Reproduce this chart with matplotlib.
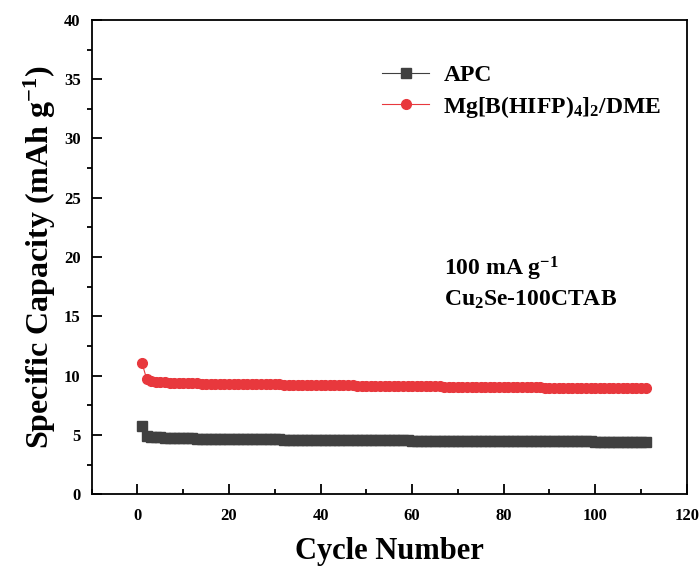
import numpy as np
import matplotlib.pyplot as plt
from matplotlib.ticker import MultipleLocator

# ── Data ─────────────────────────────────────────────────────────────────────
CYCLES = list(range(1, 112))

APC = [
    5.72, 4.88, 4.84, 4.81, 4.79, 4.77, 4.76, 4.74, 4.73, 4.72,
    4.71, 4.70, 4.69, 4.69, 4.68, 4.67, 4.67, 4.66, 4.66, 4.65,
    4.65, 4.64, 4.64, 4.63, 4.63, 4.63, 4.62, 4.62, 4.61, 4.61,
    4.61, 4.60, 4.60, 4.60, 4.59, 4.59, 4.59, 4.58, 4.58, 4.58,
    4.57, 4.57, 4.57, 4.57, 4.56, 4.56, 4.56, 4.55, 4.55, 4.55,
    4.55, 4.54, 4.54, 4.54, 4.54, 4.53, 4.53, 4.53, 4.53, 4.52,
    4.52, 4.52, 4.52, 4.51, 4.51, 4.51, 4.51, 4.50, 4.50, 4.50,
    4.50, 4.50, 4.49, 4.49, 4.49, 4.49, 4.49, 4.48, 4.48, 4.48,
    4.48, 4.48, 4.47, 4.47, 4.47, 4.47, 4.47, 4.46, 4.46, 4.46,
    4.46, 4.46, 4.46, 4.45, 4.45, 4.45, 4.45, 4.45, 4.45, 4.44,
    4.44, 4.44, 4.44, 4.44, 4.44, 4.43, 4.43, 4.43, 4.43, 4.43, 4.43,
]

MG_HIFP = [
    11.05, 9.72, 9.56, 9.49, 9.45, 9.42, 9.40, 9.38, 9.37, 9.36,
    9.35, 9.34, 9.34, 9.33, 9.33, 9.32, 9.32, 9.31, 9.31, 9.30,
    9.30, 9.29, 9.29, 9.28, 9.28, 9.27, 9.27, 9.26, 9.26, 9.25,
    9.25, 9.24, 9.24, 9.23, 9.23, 9.22, 9.22, 9.21, 9.21, 9.20,
    9.20, 9.19, 9.19, 9.18, 9.18, 9.17, 9.17, 9.16, 9.16, 9.15,
    9.15, 9.14, 9.14, 9.13, 9.13, 9.12, 9.12, 9.11, 9.11, 9.10,
    9.10, 9.09, 9.09, 9.08, 9.08, 9.08, 9.07, 9.07, 9.06, 9.06,
    9.06, 9.05, 9.05, 9.04, 9.04, 9.04, 9.03, 9.03, 9.03, 9.02,
    9.02, 9.02, 9.01, 9.01, 9.01, 9.00, 9.00, 9.00, 8.99, 8.99,
    8.99, 8.99, 8.98, 8.98, 8.98, 8.98, 8.97, 8.97, 8.97, 8.97,
    8.96, 8.96, 8.96, 8.96, 8.96, 8.95, 8.95, 8.95, 8.95, 8.95, 8.95,
]

LABELS = ["APC", r"Mg[B(HIFP)$_\mathbf{4}$]$_\mathbf{2}$/DME"]
COLORS = ["#404040", "#e8383d"]
XTICKS = [0, 20, 40, 60, 80, 100, 120]
YTICKS = [0, 5, 10, 15, 20, 25, 30, 35, 40]
# ─────────────────────────────────────────────────────────────────────────────

plt.rcParams["font.family"] = ["Liberation Serif", "DejaVu Serif"]
plt.rcParams["font.weight"] = "bold"
plt.rcParams["mathtext.fontset"] = "custom"
plt.rcParams["mathtext.rm"] = "Liberation Serif:bold"
plt.rcParams["mathtext.bf"] = "Liberation Serif:bold"
plt.rcParams["mathtext.it"] = "Liberation Serif:bold"

fig = plt.figure(figsize=(7.0, 5.68), dpi=100)
ax = fig.add_axes([0.131, 0.130, 0.850, 0.835])

ax.plot(CYCLES, APC, color=COLORS[0], marker="s", markersize=7,
        linewidth=0.8, label=LABELS[0])
ax.plot(CYCLES, MG_HIFP, color=COLORS[1], marker="o", markersize=7,
        linewidth=0.8, label=LABELS[1])

ax.set_xlim(-10, 120)
ax.set_ylim(0, 40)
ax.set_xticks(XTICKS, [str(t) for t in XTICKS], fontweight="bold", fontsize=12)
ax.set_yticks(YTICKS, [str(t) for t in YTICKS], fontweight="bold", fontsize=12)
ax.xaxis.set_minor_locator(MultipleLocator(10))
ax.yaxis.set_minor_locator(MultipleLocator(2.5))
ax.tick_params(which="major", direction="in", length=7, width=1.3)
ax.tick_params(axis="x", which="major", pad=10)
ax.tick_params(axis="y", which="major", pad=8)
ax.tick_params(axis="x", which="minor", direction="in", length=3.5, width=1.3)
ax.tick_params(axis="y", which="minor", direction="out", length=3.5, width=1.3)
for spine in ax.spines.values():
    spine.set_linewidth(1.3)

ax.set_xlabel("Cycle Number", fontsize=22, fontweight="bold", labelpad=9)
ax.set_ylabel(r"Specific Capacity (mAh g$^{\mathbf{-1}}$)", fontsize=23,
              fontweight="bold", labelpad=4)

ax.text(67, 18.4, r"100 mA g$^{\mathbf{-1}}$", fontsize=17, fontweight="bold")
ax.text(67, 15.9, r"Cu$_\mathbf{2}$Se-100CTAB", fontsize=17, fontweight="bold")

ax.legend(loc="upper left", bbox_to_anchor=(0.488, 0.905), frameon=False,
          borderaxespad=0, borderpad=0, handlelength=2.0, handletextpad=0.6,
          labelspacing=0.3, prop={"weight": "bold", "size": 17})

fig.savefig("out.png", dpi=100, facecolor="white")
